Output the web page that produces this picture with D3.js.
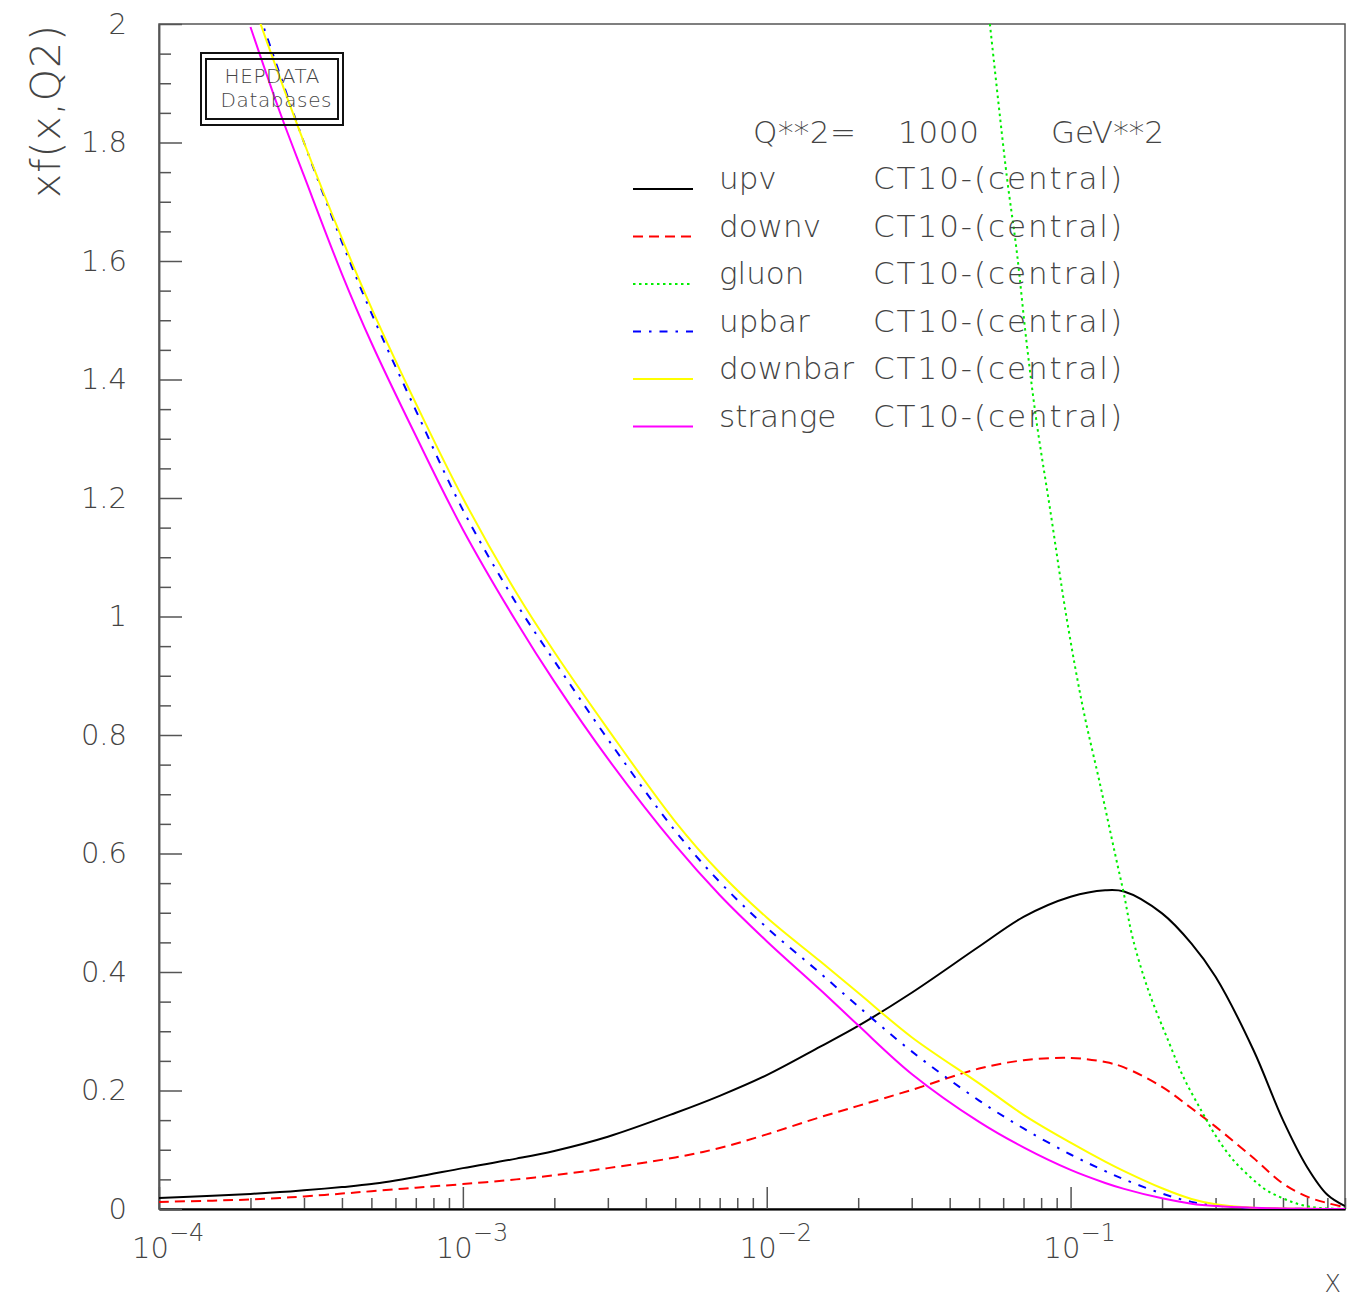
<!DOCTYPE html>
<html>
<head>
<meta charset="utf-8">
<script src="https://cdn.jsdelivr.net/npm/d3@7"></script>
<style>
  body { margin: 0; background: #fff; }
  svg text { font-family: "DejaVu Sans", sans-serif; font-weight: 200; fill: #444; }
</style>
</head>
<body>
<div id="chart"></div>
<script>
// x grid shared by the quark curves
const xGrid = [1e-4, 1.5e-4, 2e-4, 2.5e-4, 3e-4, 4e-4, 5e-4, 7e-4, 1e-3, 1.5e-3, 2e-3, 3e-3, 5e-3, 7e-3,
  0.01, 0.015, 0.02, 0.03, 0.05, 0.07, 0.1, 0.13, 0.15, 0.2, 0.25, 0.3, 0.4, 0.5, 0.6, 0.7, 0.8]

const upv = [0.0186, 0.0222, 0.0255, 0.0285, 0.0315, 0.037, 0.042, 0.054, 0.069, 0.085, 0.098, 0.122, 0.162, 0.191,
  0.226, 0.274, 0.309, 0.365, 0.443, 0.493, 0.527, 0.538, 0.536, 0.499, 0.448, 0.392, 0.268, 0.150, 0.071, 0.024, 0.005]
const downv = [0.0118, 0.0141, 0.0160, 0.0186, 0.0212, 0.026, 0.030, 0.036, 0.042, 0.050, 0.057, 0.069, 0.087, 0.103,
  0.126, 0.155, 0.174, 0.201, 0.237, 0.251, 0.255, 0.248, 0.239, 0.206, 0.170, 0.139, 0.086, 0.043, 0.021, 0.010, 0.003]
const upbar = [null, null, 2.06, 1.915, 1.800, 1.632, 1.512, 1.348, 1.180, 1.022, 0.925, 0.793, 0.638, 0.552,
  0.475, 0.398, 0.342, 0.266, 0.183, 0.136, 0.092, 0.064, 0.050, 0.026, 0.012, 0.006, 0.0015, 0.0005, 0.0002, 0.0001, 0.0001]
const downbar = [null, null, 2.048, 1.909, 1.800, 1.638, 1.521, 1.360, 1.200, 1.040, 0.940, 0.810, 0.654, 0.568,
  0.492, 0.418, 0.365, 0.290, 0.212, 0.159, 0.112, 0.080, 0.064, 0.035, 0.017, 0.008, 0.002, 0.001, 0.0005, 0.0002, 0.0001]
const strange = [null, null, 1.995, 1.851, 1.744, 1.578, 1.462, 1.305, 1.147, 0.991, 0.890, 0.760, 0.614, 0.530,
  0.452, 0.370, 0.310, 0.228, 0.147, 0.104, 0.066, 0.044, 0.034, 0.018, 0.009, 0.005, 0.002, 0.001, 0.0005, 0.0002, 0.0001]

// gluon only shows up above x ~ 0.054
const gluonX = [0.054, 0.0616, 0.0664, 0.0716, 0.0773, 0.0855, 0.097, 0.11, 0.125, 0.14, 0.15, 0.16, 0.18, 0.21,
  0.235, 0.27, 0.3, 0.34, 0.39, 0.44, 0.5, 0.56, 0.63, 0.7, 0.8]
const gluon = [2.01, 1.745, 1.619, 1.464, 1.328, 1.183, 0.998, 0.844, 0.717, 0.600, 0.530, 0.458, 0.370, 0.283,
  0.223, 0.165, 0.124, 0.085, 0.054, 0.032, 0.018, 0.0085, 0.003, 0.001, 0.0003]

const seriesNames = ['upv', 'downv', 'gluon', 'upbar', 'downbar', 'strange']
const pdfSet = 'CT10-(central)'
const yTicks = [0, 0.2, 0.4, 0.6, 0.8, 1, 1.2, 1.4, 1.6, 1.8, 2]
const xDecades = [-4, -3, -2, -1]

const seriesData = {
  upv: xGrid.map((x, i) => [x, upv[i]]),
  downv: xGrid.map((x, i) => [x, downv[i]]),
  gluon: gluonX.map((x, i) => [x, gluon[i]]),
  upbar: xGrid.map((x, i) => [x, upbar[i]]),
  downbar: xGrid.map((x, i) => [x, downbar[i]]),
  strange: xGrid.map((x, i) => [x, strange[i]])
}

const styles = {
  upv: { color: '#000000', dash: null },
  downv: { color: '#ff0000', dash: '10,6' },
  gluon: { color: '#00ee00', dash: '2.5,3.5' },
  upbar: { color: '#0000ff', dash: '8,8,2.5,8' },
  downbar: { color: '#ffff00', dash: null },
  strange: { color: '#ff00ff', dash: null }
}

const margin = { top: 24, right: 8, bottom: 89, left: 159 }
const width = 1353 - margin.left - margin.right
const height = 1298 - margin.top - margin.bottom

const xScale = d3.scaleLog()
  .domain([1e-4, 0.8])
  .range([0, width])

const yScale = d3.scaleLinear()
  .domain([0, 2])
  .range([height, 0])

const svg = d3.select('#chart')
  .append('svg')
  .attr('width', 1353)
  .attr('height', 1298)

const g = svg.append('g')
  .attr('transform', `translate(${margin.left},${margin.top})`)

g.append('clipPath')
  .attr('id', 'plot-clip')
  .append('rect')
  .attr('width', width)
  .attr('height', height)

// frame
g.append('rect')
  .attr('width', width)
  .attr('height', height)
  .attr('fill', 'none')
  .attr('stroke', '#555')
  .attr('stroke-width', 1.5)

// x ticks, minor and decade
const xMinor = []
xDecades.forEach((e) => {
  for (let k = 2; k <= 9; k++) {
    const v = k * Math.pow(10, e)
    if (v <= 0.8) xMinor.push(v)
  }
})

const xAxisMinor = g.append('g')
  .attr('transform', `translate(0,${height})`)
  .call(d3.axisBottom(xScale).tickValues(xMinor).tickSize(-11).tickSizeOuter(0).tickFormat(''))
const xAxisMajor = g.append('g')
  .attr('transform', `translate(0,${height})`)
  .call(d3.axisBottom(xScale).tickValues(xDecades.map((e) => Math.pow(10, e))).tickSize(-22).tickSizeOuter(0).tickFormat(''))

// y ticks
const yMinor = d3.range(0, 2.001, 0.05).filter((v) => Math.abs(v / 0.2 - Math.round(v / 0.2)) > 0.01)
const yAxisMinor = g.append('g')
  .call(d3.axisLeft(yScale).tickValues(yMinor).tickSize(-12).tickSizeOuter(0).tickFormat(''))
const yAxisMajor = g.append('g')
  .call(d3.axisLeft(yScale).tickValues(yTicks).tickSize(-23).tickSizeOuter(0).tickPadding(32)
    .tickFormat((d) => String(+d.toFixed(1))))

;[xAxisMinor, xAxisMajor, yAxisMinor, yAxisMajor].forEach((a) => {
  a.select('.domain').attr('stroke', '#555').attr('stroke-width', 1.5)
  a.selectAll('.tick line').attr('stroke', '#555').attr('stroke-width', 1.5)
})
xAxisMajor.select('.domain').attr('stroke', '#000').attr('stroke-width', 2)

yAxisMajor.selectAll('.tick text')
  .attr('font-size', 29)
  .attr('fill', '#444')
  .style('font-family', '"DejaVu Sans", sans-serif')

// x decade labels 10^n
const xLab = g.append('g')
  .selectAll('text')
  .data(xDecades)
  .join('text')
  .attr('x', (e) => xScale(Math.pow(10, e)) - 27)
  .attr('y', height + 49)
  .attr('font-size', 29)
xLab.append('tspan').text('10')
xLab.append('tspan')
  .attr('dy', -17)
  .attr('font-size', 24)
  .text((e) => '\u2212' + Math.abs(e))

// axis titles
svg.append('text')
  .attr('x', 1341)
  .attr('y', 1292)
  .attr('text-anchor', 'end')
  .attr('font-size', 24)
  .text('X')

svg.append('text')
  .attr('transform', 'translate(60,25) rotate(-90)')
  .attr('text-anchor', 'end')
  .attr('font-size', 41)
  .attr('textLength', 173)
  .text('xf(x,Q2)')

// curves
const line = d3.line()
  .defined((d) => d[1] != null)
  .x((d) => xScale(d[0]))
  .y((d) => yScale(d[1]))
  .curve(d3.curveCatmullRom.alpha(0.5))

const curves = g.append('g').attr('clip-path', 'url(#plot-clip)')
seriesNames.forEach((name) => {
  curves.append('path')
    .datum(seriesData[name])
    .attr('d', line)
    .attr('fill', 'none')
    .attr('stroke', styles[name].color)
    .attr('stroke-width', 2)
    .attr('stroke-dasharray', styles[name].dash)
})

// HEPDATA stamp
svg.append('rect').attr('x', 201).attr('y', 53).attr('width', 142).attr('height', 72)
  .attr('fill', 'none').attr('stroke', '#111').attr('stroke-width', 2)
svg.append('rect').attr('x', 206).attr('y', 59).attr('width', 132).attr('height', 60)
  .attr('fill', 'none').attr('stroke', '#111').attr('stroke-width', 2)
svg.append('text').attr('x', 272).attr('y', 83).attr('text-anchor', 'middle')
  .attr('font-size', 20).attr('textLength', 95).text('HEPDATA')
svg.append('text').attr('x', 276).attr('y', 107).attr('text-anchor', 'middle')
  .attr('font-size', 20).attr('textLength', 111).text('Databases')

// legend
svg.append('text').attr('x', 753).attr('y', 143).attr('font-size', 31).attr('textLength', 103).text('Q**2=')
svg.append('text').attr('x', 898).attr('y', 143).attr('font-size', 31).attr('textLength', 81).text('1000')
svg.append('text').attr('x', 1051).attr('y', 143).attr('font-size', 31).attr('textLength', 113).text('GeV**2')

const legend = svg.append('g')
  .selectAll('g')
  .data(seriesNames)
  .join('g')
  .attr('transform', (d, i) => `translate(0,${189 + i * 47.5})`)

legend.append('line')
  .attr('x1', 633).attr('x2', 693)
  .attr('stroke', (d) => styles[d].color)
  .attr('stroke-width', 2)
  .attr('stroke-dasharray', (d) => styles[d].dash)

legend.append('text')
  .attr('x', 719)
  .attr('y', 0)
  .attr('font-size', 31)
  .text((d) => d)

legend.append('text')
  .attr('x', 873)
  .attr('y', 0)
  .attr('font-size', 31)
  .attr('textLength', 249)
  .text(pdfSet)
</script>
</body>
</html>
